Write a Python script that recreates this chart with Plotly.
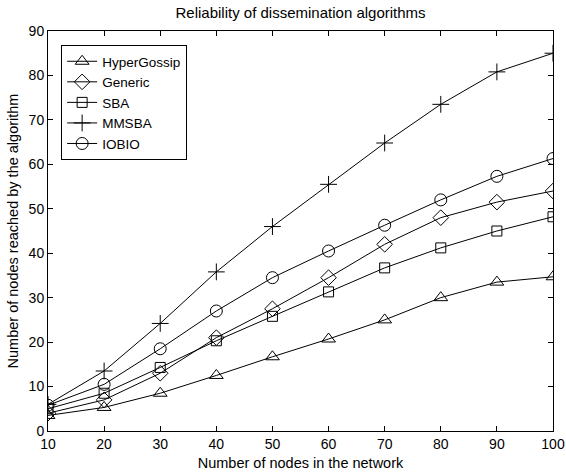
import plotly.graph_objects as go

nodes = [10, 20, 30, 40, 50, 60, 70, 80, 90, 100]
hypergossip = [3.5, 5.3, 8.5, 12.5, 16.7, 20.7, 25.0, 30.0, 33.5, 34.7]
generic = [4.0, 7.0, 13.0, 21.0, 27.5, 34.5, 42.0, 48.0, 51.5, 54.0]
sba = [5.0, 8.5, 14.3, 20.3, 25.8, 31.3, 36.7, 41.2, 45.0, 48.2]
mmsba = [6.0, 13.5, 24.2, 35.8, 46.0, 55.5, 64.8, 73.5, 80.8, 85.0]
iobio = [5.8, 10.5, 18.5, 27.0, 34.5, 40.5, 46.3, 52.0, 57.3, 61.3]

series = [
    ("HyperGossip", hypergossip, "triangle-up-open", 12),
    ("Generic", generic, "diamond-open", 12),
    ("SBA", sba, "square-open", 10),
    ("MMSBA", mmsba, "cross-thin-open", 12),
    ("IOBIO", iobio, "circle-open", 12),
]

fig = go.Figure()
for name, vals, sym, sz in series:
    fig.add_trace(go.Scatter(
        x=nodes, y=vals, name=name, mode="lines+markers",
        line=dict(color="black", width=1),
        marker=dict(symbol=sym, size=sz, color="black",
                    line=dict(color="black", width=1)),
    ))

axis_common = dict(
    showgrid=False, zeroline=False, showline=True, linecolor="black",
    linewidth=1, mirror="ticks", ticks="inside", ticklen=5,
    tickcolor="black", tickfont=dict(size=14, color="black"),
    automargin=False,
)

fig.update_layout(
    width=566, height=473,
    margin=dict(l=48, r=13, t=31, b=42),
    paper_bgcolor="white", plot_bgcolor="white",
    font=dict(family="Liberation Sans, Arial, sans-serif", size=14, color="black"),
    title=dict(text="Reliability of dissemination algorithms", x=0.531,
               xanchor="center", y=0.9725, yanchor="middle",
               font=dict(size=15)),
    xaxis=dict(range=[10, 100], tickvals=list(range(10, 101, 10)),
               title=dict(text="Number of nodes in the network", standoff=7,
                          font=dict(size=14.5)),
               **axis_common),
    yaxis=dict(range=[0, 90], tickvals=list(range(0, 91, 10)),
               title=dict(text="Number of nodes reached by the algorithm", standoff=6,
                          font=dict(size=14.5)),
               **axis_common),
    legend=dict(x=0.026, y=0.965, xanchor="left", yanchor="top",
                bordercolor="black", borderwidth=1, bgcolor="white",
                font=dict(size=13.5), tracegroupgap=0, itemwidth=30),
    showlegend=True,
)

fig.write_html("out.html")
